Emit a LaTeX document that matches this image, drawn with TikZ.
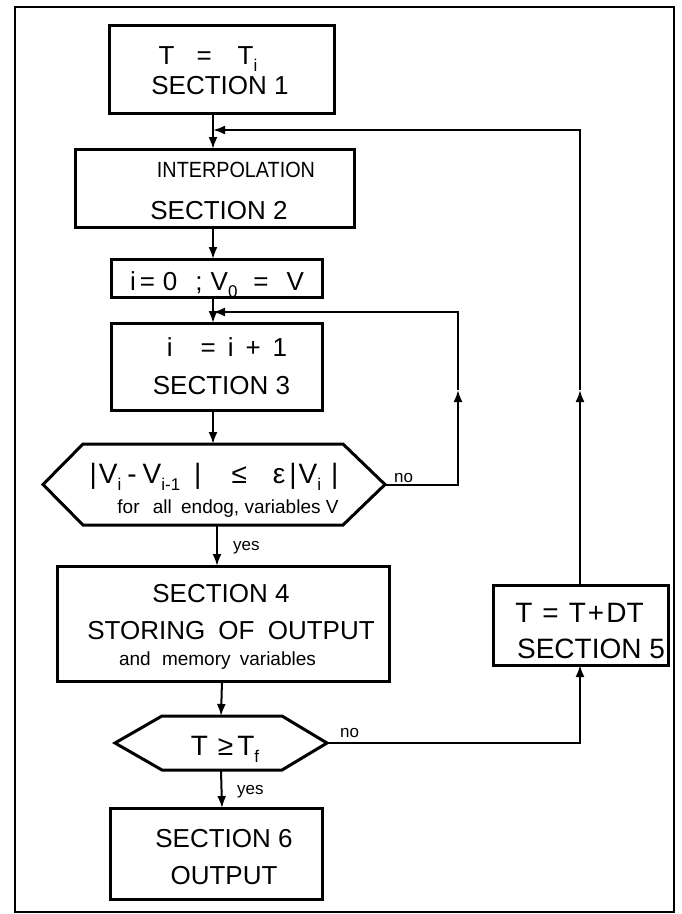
\documentclass[tikz,border=0pt]{standalone}
\usepackage{fontspec}
\setmainfont{Liberation Sans}
\usepackage{graphicx}
\usetikzlibrary{arrows.meta,calc}
\newcommand\lowr[1]{\raisebox{-0.28em}{\fontsize{17}{17}\selectfont #1}}
\begin{document}
\begin{tikzpicture}[x=1pt,y=-1pt,
  blk/.style={draw, line width=3pt, inner sep=0pt, outer sep=0pt},
  hexnode/.style={inner sep=0pt, outer sep=0pt},
  hexline/.style={line width=3pt, line join=miter},
  conn/.style={line width=2pt},
  arr/.style={conn, -{Latex[length=12pt,width=9pt]}},
  capA/.style={font=\fontsize{26}{30}\selectfont, anchor=base, inner sep=0pt},
  capB/.style={font=\fontsize{28}{32}\selectfont, anchor=base, inner sep=0pt},
  capC/.style={font=\fontsize{22}{26}\selectfont, anchor=base, inner sep=0pt},
  lowtxt/.style={font=\fontsize{19}{22}\selectfont, anchor=base, inner sep=0pt},
  lbl/.style={font=\fontsize{17}{20}\selectfont, anchor=base west, inner sep=0pt}]
\useasboundingbox (0,0) rectangle (681,914);
\draw[line width=1.6pt] (15,7) rectangle (674,912);

% boxes
\node[blk, minimum width=225, minimum height=88] (b1) at (221.5,69) {};
\node[blk, minimum width=279, minimum height=78] (b2) at (214.5,188) {};
\node[blk, minimum width=211, minimum height=38] (b3) at (216.5,278) {};
\node[blk, minimum width=211, minimum height=87] (b4) at (216.5,366.5) {};
\node[hexnode, minimum width=342, minimum height=81] (h1) at (214,484.5) {};
\node[blk, minimum width=332, minimum height=115] (b5) at (223,623.5) {};
\node[hexnode, minimum width=212, minimum height=54] (h2) at (221,743) {};
\node[blk, minimum width=212, minimum height=91] (b6) at (216,853.5) {};
\node[blk, minimum width=175, minimum height=80] (b7) at (580.5,625) {};

\draw[hexline] (h1.west) -- ($(h1.north west)+(40,0)$) -- ($(h1.north east)+(-42,0)$)
  -- (h1.east) -- ($(h1.south east)+(-42,0)$) -- ($(h1.south west)+(40,0)$) -- cycle;
\draw[hexline] (h2.west) -- ($(h2.north west)+(47,0)$) -- ($(h2.north east)+(-45,0)$)
  -- (h2.east) -- ($(h2.south east)+(-45,0)$) -- ($(h2.south west)+(47,0)$) -- cycle;

% texts
\node[capA] (t1a) at (208,64.3) {T\hspace{22pt}=\hspace{26pt}T\lowr{i}};
\node[capA] (t1b) at (220,94.3) {SECTION 1};
\node[capC] (t2a) at (236,177) {\scalebox{0.9}[1]{INTERPOLATION}};
\node[capA] (t2b) at (219,219.3) {SECTION 2};
\node[capA] (t3) at (217,290) {i\hspace{4pt}=\hspace{8pt}0\hspace{18pt};\hspace{8pt}V\lowr{0}\hspace{16pt}=\hspace{18pt}V};
\node[capA] (t4a) at (227,356.3) {i\hspace{28pt}=\hspace{12pt}i\hspace{12pt}+\hspace{12pt}1};
\node[capA] (t4b) at (221.5,394.3) {SECTION 3};
\node[capB] (t5a) at (214,483) {|\hspace{2pt}V\lowr{i}\hspace{6pt}-\hspace{6pt}V\lowr{i-1}\hspace{14pt}|\hspace{30pt}≤\hspace{26pt}ε\hspace{4pt}|\hspace{2pt}V\lowr{i}\hspace{10pt}|};
\node[lowtxt] (t5b) at (228,513) {for\hspace{8pt} all\hspace{4pt} endog, variables V};
\node[capA] (t6a) at (221,602.3) {SECTION 4};
\node[capA] (t6b) at (231,639.3) {STORING\hspace{6pt} OF\hspace{6pt} OUTPUT};
\node[lowtxt] (t6c) at (217.5,665) {and\hspace{6pt} memory\hspace{4pt} variables};
\node[capB] (t8) at (225,755) {T\hspace{10pt}≥\hspace{4pt}T\lowr{f}};
\node[capA] (t9a) at (224,847.3) {SECTION 6};
\node[capA] (t9b) at (224,884.3) {OUTPUT};
\node[capB] (t7a) at (579.5,622) {T\hspace{10pt}=\hspace{10pt}T\hspace{2pt}+\hspace{2pt}DT};
\node[capB] (t7b) at (591,658) {SECTION 5};

% labels
\node[lbl] (no1) at (394,482) {no};
\node[lbl] (yes1) at (233,550) {yes};
\node[lbl] (no2) at (340,737) {no};
\node[lbl] (yes2) at (237,794) {yes};

% junction coordinates
\coordinate (j1) at (213,130);
\coordinate (j2) at (213,312);
\coordinate (c1) at (580,130);
\coordinate (c2) at (458,312);
\coordinate (c3) at (458,484.5);
\coordinate (c4) at (580,743);
\coordinate (m1) at (580,390);
\coordinate (m2) at (458,390);

% connectors
\draw[arr] (b1.south -| j1) -- (b2.north -| j1);
\draw[arr] (b2.south -| j1) -- (b3.north -| j1);
\draw[arr] (b3.south -| j2) -- (b4.north -| j2);
\draw[arr] (b4.south -| j2) -- (h1.north -| j2);
\draw[arr] ($(h1.south)+(3,0)$) -- ($(b5.north)+(-6,0)$);
\draw[arr] ($(b5.south)+(-1,0)$) -- (h2.north);
\draw[arr] (h2.south) -- ($(b6.north)+(6,0)$);
\draw[arr] (b7.north -| c1) -- (m1);
\draw[arr] (m1) -- (c1) -- (j1);
\draw[arr] (h1.east) -- (c3) -- (m2);
\draw[arr] (m2) -- (c2) -- (j2);
\draw[arr] (h2.east) -- (c4) -- (b7.south -| c4);
\end{tikzpicture}
\end{document}
